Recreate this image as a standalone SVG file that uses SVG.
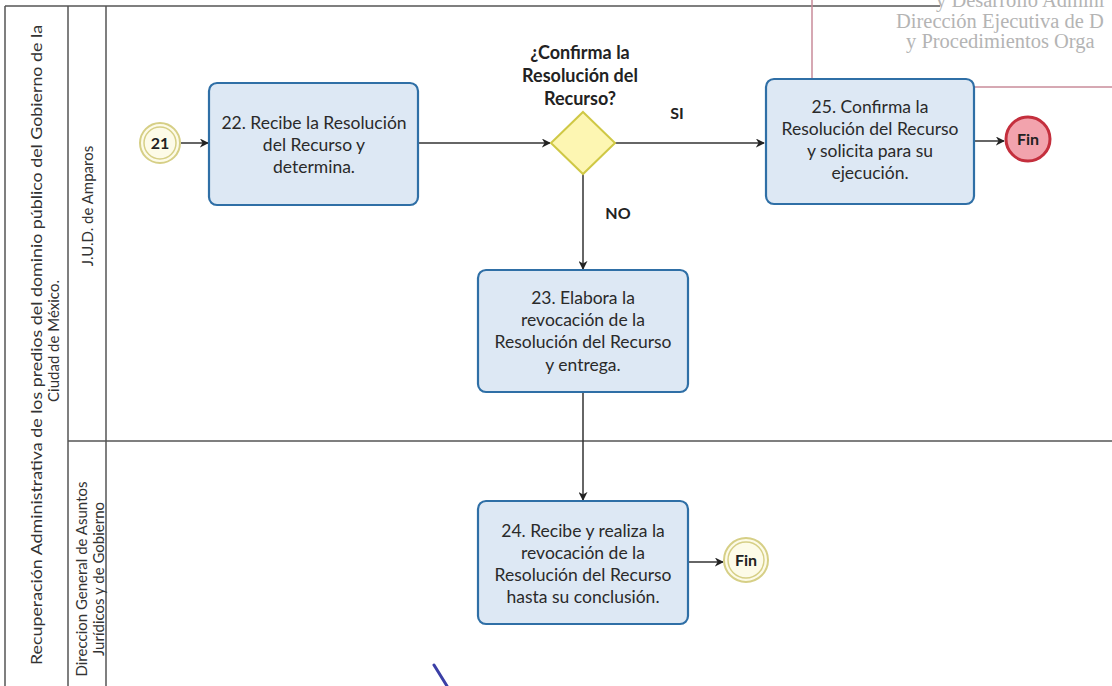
<svg xmlns="http://www.w3.org/2000/svg" width="1112" height="686" viewBox="0 0 1112 686">
  <style>
    .lane { stroke: #555; stroke-width: 1.5; fill: none; }
    .lbl { font-family: Lato, "Open Sans", "Liberation Sans", sans-serif; font-size: 15px; fill: #333; text-anchor: middle; }
    .task rect { fill: #dde8f4; stroke: #2f6fa6; stroke-width: 2.2; }
    .task text { font-family: Lato, "Open Sans", "Liberation Sans", sans-serif; font-size: 17.5px; fill: #2a2a2a; text-anchor: middle; }
    .evt circle.o { fill: #fdfbe8; stroke: #d6cf86; stroke-width: 2; }
    .evt circle.i { fill: none; stroke: #d6cf86; stroke-width: 1.5; }
    .evt text, .bold { font-family: Lato, "Open Sans", "Liberation Sans", sans-serif; font-size: 16px; font-weight: bold; fill: #222; text-anchor: middle; }
    .q { font-size: 18px; }
    .conn { stroke: #333; stroke-width: 1.5; fill: none; }
    .stamp { font-family: "Liberation Serif", serif; font-size: 20.5px; fill: #b4b4b4; }
  </style>
  <defs>
    <marker id="arrow" viewBox="0 0 10 10" refX="9" refY="5" markerWidth="9" markerHeight="9" markerUnits="userSpaceOnUse" orient="auto">
      <path d="M0,0 L10,5 L0,10 L3,5 z" fill="#222"/>
    </marker>
  </defs>

  <rect width="1112" height="686" fill="#ffffff"/>

  <!-- pool and lanes -->
  <g id="pool">
    <line class="lane" x1="5" y1="6" x2="940" y2="6"/>
    <line class="lane" x1="5" y1="6" x2="5" y2="686"/>
    <line class="lane" x1="68" y1="6" x2="68" y2="686"/>
    <line class="lane" x1="106" y1="6" x2="106" y2="686"/>
    <line class="lane" x1="68" y1="441" x2="1112" y2="441"/>
    <text class="lbl" font-size="16" textLength="640" lengthAdjust="spacingAndGlyphs" transform="translate(42,345) rotate(-90)">Recuperación Administrativa de los predios del dominio público del Gobierno de la</text>
    <text class="lbl" transform="translate(59,341) rotate(-90)">Ciudad de México.</text>
    <text class="lbl" transform="translate(93,206) rotate(-90)">J.U.D. de Amparos</text>
    <text class="lbl" font-size="16" transform="translate(87,579) rotate(-90)">Direccion General de Asuntos</text>
    <text class="lbl" font-size="16" transform="translate(104,579) rotate(-90)">Jurídicos y de Gobierno</text>
  </g>

  <!-- stamp -->
  <g id="stamp">
    <rect x="812" y="-6" width="310" height="93" fill="none" stroke="#c98c9a" stroke-width="1.5"/>
    <text class="stamp" x="936" y="7">y Desarrollo Admini</text>
    <text class="stamp" x="896" y="28">Dirección Ejecutiva de D</text>
    <text class="stamp" x="906" y="48">y Procedimientos Orga</text>
  </g>

  <!-- connectors -->
  <g id="connectors">
    <line class="conn" x1="181" y1="143" x2="208" y2="143" marker-end="url(#arrow)"/>
    <line class="conn" x1="419" y1="143" x2="550" y2="143" marker-end="url(#arrow)"/>
    <line class="conn" x1="615" y1="143" x2="764" y2="143" marker-end="url(#arrow)"/>
    <line class="conn" x1="975" y1="141" x2="1004" y2="141" marker-end="url(#arrow)"/>
    <line class="conn" x1="583" y1="174" x2="583" y2="269" marker-end="url(#arrow)"/>
    <line class="conn" x1="583" y1="392" x2="583" y2="500" marker-end="url(#arrow)"/>
    <line class="conn" x1="689" y1="562" x2="723" y2="562" marker-end="url(#arrow)"/>
    <text class="bold" x="677" y="119">SI</text>
    <text class="bold" x="618" y="219">NO</text>
  </g>

  <g id="start21" class="evt">
    <circle class="o" cx="160" cy="143" r="20"/>
    <circle class="i" cx="160" cy="143" r="16"/>
    <text x="160" y="149">21</text>
  </g>

  <g id="task22" class="task">
    <rect x="209" y="83" width="209" height="122" rx="8"/>
    <text x="314" y="129">22. Recibe la Resolución</text>
    <text x="314" y="151">del Recurso y</text>
    <text x="314" y="173">determina.</text>
  </g>

  <g id="gateway">
    <polygon points="583,112 615,143 583,174 551,143" fill="#fdf6b2" stroke="#cfc845" stroke-width="2"/>
    <text class="bold q" x="580" y="59">¿Confirma la</text>
    <text class="bold q" x="580" y="82">Resolución del</text>
    <text class="bold q" x="580" y="105">Recurso?</text>
  </g>

  <g id="task25" class="task">
    <rect x="766" y="79" width="208" height="125" rx="8"/>
    <text x="870" y="113">25. Confirma la</text>
    <text x="870" y="135">Resolución del Recurso</text>
    <text x="870" y="157">y solicita para su</text>
    <text x="870" y="179">ejecución.</text>
  </g>

  <g id="end-top">
    <circle cx="1028" cy="139" r="22" fill="#f2a3ad" stroke="#c42f3d" stroke-width="3"/>
    <text class="bold" x="1028" y="145">Fin</text>
  </g>

  <g id="task23" class="task">
    <rect x="478" y="270" width="210" height="122" rx="8"/>
    <text x="583" y="304">23. Elabora la</text>
    <text x="583" y="326">revocación de la</text>
    <text x="583" y="348">Resolución del Recurso</text>
    <text x="583" y="371">y entrega.</text>
  </g>

  <g id="task24" class="task">
    <rect x="478" y="501" width="210" height="123" rx="8"/>
    <text x="583" y="537">24. Recibe y realiza la</text>
    <text x="583" y="559">revocación de la</text>
    <text x="583" y="581">Resolución del Recurso</text>
    <text x="583" y="603">hasta su conclusión.</text>
  </g>

  <g id="end-bottom" class="evt">
    <circle class="o" cx="746" cy="560" r="22"/>
    <circle class="i" cx="746" cy="560" r="18"/>
    <text x="746" y="566">Fin</text>
  </g>

  <!-- pen stroke -->
  <path d="M434,665 L447,686" stroke="#3b3fa6" stroke-width="3" stroke-linecap="round" fill="none"/>
</svg>
